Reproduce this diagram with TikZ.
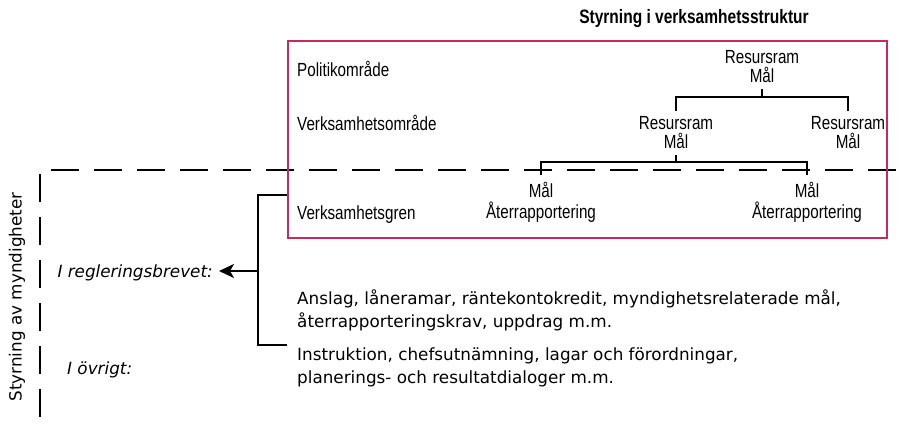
\documentclass[tikz,border=0pt]{standalone}
\usepackage{fontspec}
\setmainfont{Liberation Sans}[FakeStretch=0.8]
\newfontfamily\widefont{DejaVu Sans}
\usetikzlibrary{arrows.meta}
\definecolor{boxred}{HTML}{C8285E}
\tikzset{
  txt/.style={inner sep=0pt, font=\fontsize{19}{19}\selectfont},
  lbl/.style={txt, anchor=base west},
  pair/.style={txt, align=center, anchor=center, inner xsep=0pt, inner ysep=6pt},
  low/.style={inner sep=0pt, font=\widefont\fontsize{16.8}{22.5}\selectfont},
  br/.style={draw=black, line width=2.3pt},
  dsh/.style={draw=black, line width=2.4pt, dash pattern=on 28pt off 15pt},
}
\begin{document}
\begin{tikzpicture}[x=1pt,y=-1pt]
\useasboundingbox (0,0) rectangle (903,428);
% title
\node[txt, font=\fontsize{19.4}{19}\selectfont\bfseries, anchor=base] (title) at (694,24) {Styrning i verksamhetsstruktur};
% dashed frame
\coordinate (dc) at (40,170);
\coordinate (de) at (896,170);
\coordinate (db) at (40,430);
\draw[dsh] (de) -- (dc) -- (db);
% red box
\node[draw=boxred, line width=2pt, inner sep=0pt, minimum width=599pt, minimum height=197pt, anchor=north west] (box) at (287,40) {};
% row labels
\node[lbl] (pol) at (297,77) {Politikområde};
\node[lbl] (vo) at (297,131) {Verksamhetsområde};
\node[lbl] (vg) at (297,219) {Verksamhetsgren};
% hierarchy
\node[pair] (r0) at (762,67) {Resursram\\Mål};
\node[pair] (r1) at (676,133) {Resursram\\Mål};
\node[pair] (r2) at (848,133) {Resursram\\Mål};
\node[pair, inner ysep=7pt] (m1) at (541,202) {Mål\\[2pt]Återrapportering};
\node[pair, inner ysep=7pt] (m2) at (807,202) {Mål\\[2pt]Återrapportering};
\coordinate (j0) at (762,97);
\coordinate (j1) at (676,162);
\draw[br] (r0.south) -- (j0);
\draw[br] (r1.north) |- (j0) -| (r2.north);
\draw[br] (r1.south) -- (j1);
\draw[br] (m1.north) |- (j1) -| (m2.north);
% left side
\node[low, rotate=90, anchor=center] (sam) at (17,297) {Styrning av myndigheter};
\node[low, font=\widefont\fontsize{16.8}{22.5}\selectfont\itshape, anchor=base east] (reg) at (213,277) {I regleringsbrevet:};
\node[low, font=\widefont\fontsize{16.8}{22.5}\selectfont\itshape, anchor=base west] (ovr) at (67,374) {I övrigt:};
\node[low, align=left, anchor=north west] (ansl) at (297,290) {Anslag, låneramar, räntekontokredit, myndighetsrelaterade mål,\\återrapporteringskrav, uppdrag m.m.};
\node[low, align=left, anchor=north west] (instr) at (297,348) {Instruktion, chefsutnämning, lagar och förordningar,\\planerings- och resultatdialoger m.m.};
% bracket with arrow
\coordinate (bt) at (287,195);
\coordinate (bb) at (287,345);
\coordinate (bm) at (258,271);
\draw[br] (bt) -- (258,195) -- (258,345) -- (bb);
\draw[br, -{Stealth[length=15pt,width=14pt,inset=4pt]}] (bm) -- (219,271);
\end{tikzpicture}
\end{document}
